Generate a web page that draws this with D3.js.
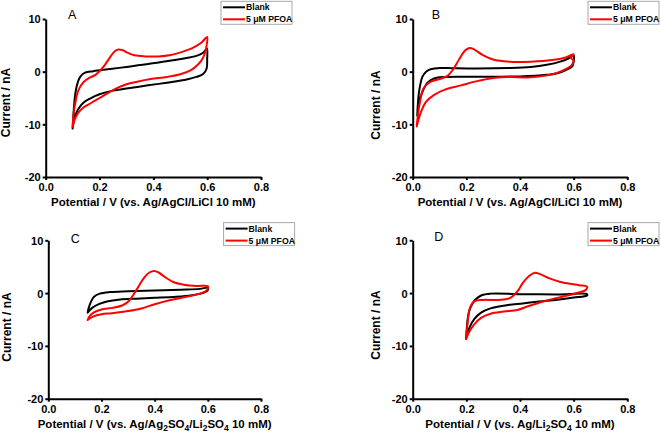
<!DOCTYPE html>
<html><head><meta charset="utf-8">
<script src="https://cdn.jsdelivr.net/npm/d3@7"></script>
<style>body{margin:0;background:#fff}svg{display:block}</style>
</head><body>
<svg id="c" width="661" height="434"></svg>
<script>
// ---------- data ----------
const xTicks = [0, 0.2, 0.4, 0.6, 0.8];
const yTicks = [10, 0, -10, -20];
const seriesNames = ["Blank", "5 \u03bcM PFOA"];
const seriesColors = ["#000000", "#ff0000"];
const panelLetters = ["A", "B", "C", "D"];

const blankA = [[0.100,-10.8],[0.104,-7.5],[0.108,-5.0],[0.115,-2.8],[0.128,-1.0],[0.146,-0.2],[0.177,0.1],[0.24,0.5],[0.30,0.9],[0.36,1.3],[0.425,1.8],[0.48,2.2],[0.524,2.6],[0.56,3.0],[0.585,3.6],[0.599,4.4],[0.600,2.4],[0.598,0.6],[0.586,-0.4],[0.56,-1.0],[0.524,-1.5],[0.45,-2.1],[0.38,-2.6],[0.30,-3.2],[0.25,-3.6],[0.20,-4.3],[0.165,-5.1],[0.14,-5.9],[0.12,-7.2],[0.107,-8.8],[0.100,-10.8]];
const pfoaA = [[0.100,-10.5],[0.104,-7.8],[0.109,-6.2],[0.121,-3.6],[0.140,-2.0],[0.165,-1.1],[0.185,-0.6],[0.202,0.2],[0.22,1.3],[0.24,2.8],[0.255,3.8],[0.27,4.2],[0.285,4.1],[0.30,3.7],[0.33,3.1],[0.37,2.9],[0.42,2.9],[0.46,3.1],[0.51,3.8],[0.55,4.6],[0.58,5.6],[0.600,6.6],[0.598,5.0],[0.592,3.6],[0.582,2.4],[0.565,1.3],[0.54,0.3],[0.50,-0.5],[0.45,-1.0],[0.39,-1.4],[0.34,-1.9],[0.30,-2.4],[0.25,-3.5],[0.20,-5.0],[0.17,-5.9],[0.14,-6.8],[0.12,-7.9],[0.107,-9.2],[0.100,-10.5]];

const blankB = [[0.017,-8.3],[0.019,-6.4],[0.022,-4.5],[0.028,-2.5],[0.036,-1.0],[0.05,0.0],[0.07,0.5],[0.10,0.7],[0.15,0.65],[0.24,0.6],[0.36,0.7],[0.44,0.9],[0.50,1.3],[0.55,1.9],[0.58,2.5],[0.600,3.1],[0.600,2.0],[0.595,1.0],[0.575,0.4],[0.54,-0.3],[0.50,-0.6],[0.40,-0.9],[0.30,-0.95],[0.20,-0.95],[0.12,-1.0],[0.08,-1.3],[0.055,-2.1],[0.04,-3.4],[0.028,-5.0],[0.021,-6.6],[0.017,-8.3]];
const pfoaB = [[0.015,-10.4],[0.020,-8.0],[0.027,-5.8],[0.04,-3.2],[0.064,-2.0],[0.10,-1.4],[0.13,-0.8],[0.15,0.4],[0.175,2.5],[0.195,4.0],[0.212,4.5],[0.23,4.2],[0.26,3.2],[0.30,2.3],[0.36,1.9],[0.44,1.9],[0.52,2.2],[0.57,2.7],[0.600,3.3],[0.590,2.6],[0.600,2.1],[0.592,1.2],[0.57,0.5],[0.54,-0.2],[0.49,-0.8],[0.43,-1.1],[0.36,-1.0],[0.30,-1.2],[0.24,-1.8],[0.18,-2.6],[0.12,-3.4],[0.08,-4.4],[0.05,-5.7],[0.03,-7.8],[0.015,-10.4]];

const blankC = [[0.148,-3.7],[0.152,-2.8],[0.160,-1.7],[0.172,-0.7],[0.194,-0.1],[0.232,0.2],[0.30,0.35],[0.40,0.5],[0.50,0.65],[0.57,0.8],[0.600,1.0],[0.598,0.4],[0.58,0.0],[0.54,-0.4],[0.48,-0.7],[0.40,-0.9],[0.33,-1.05],[0.27,-1.2],[0.22,-1.6],[0.19,-2.1],[0.165,-2.8],[0.148,-3.7]];
const pfoaC = [[0.148,-5.1],[0.155,-4.4],[0.17,-3.7],[0.20,-3.1],[0.24,-2.8],[0.28,-2.3],[0.305,-1.4],[0.32,-0.3],[0.34,1.3],[0.36,2.9],[0.38,3.9],[0.398,4.2],[0.415,3.9],[0.44,3.0],[0.47,2.1],[0.51,1.6],[0.56,1.35],[0.600,1.3],[0.600,0.8],[0.59,0.3],[0.57,-0.1],[0.52,-0.7],[0.46,-1.3],[0.40,-2.1],[0.35,-2.9],[0.30,-3.4],[0.24,-3.8],[0.20,-4.0],[0.17,-4.4],[0.148,-5.1]];

const blankD = [[0.199,-8.6],[0.202,-6.5],[0.206,-4.5],[0.214,-2.9],[0.232,-1.3],[0.257,-0.4],[0.29,-0.1],[0.40,-0.2],[0.54,-0.25],[0.650,-0.2],[0.650,-0.45],[0.60,-0.85],[0.54,-1.25],[0.47,-1.6],[0.41,-1.95],[0.35,-2.3],[0.29,-2.9],[0.255,-3.7],[0.23,-4.9],[0.212,-6.5],[0.199,-8.6]];
const pfoaD = [[0.199,-8.7],[0.203,-6.5],[0.207,-4.5],[0.214,-2.7],[0.228,-1.6],[0.26,-1.3],[0.32,-1.3],[0.36,-1.0],[0.39,0.3],[0.41,1.9],[0.435,3.3],[0.456,3.85],[0.475,3.6],[0.51,2.8],[0.56,2.0],[0.62,1.5],[0.650,1.2],[0.645,0.6],[0.62,0.1],[0.58,-0.4],[0.53,-1.0],[0.48,-1.7],[0.43,-2.5],[0.39,-3.2],[0.34,-3.5],[0.29,-3.9],[0.255,-4.7],[0.228,-6.0],[0.21,-7.4],[0.199,-8.7]];

// x-axis titles: [text, isSubscript]
const xLabelA = [["Potential / V (vs. Ag/AgCl/LiCl 10 mM)",0]];
const xLabelB = [["Potential / V (vs. Ag/AgCl/LiCl 10 mM)",0]];
const xLabelC = [["Potential / V (vs. Ag/Ag",0],["2",1],["SO",0],["4",1],["/Li",0],["2",1],["SO",0],["4",1],[" 10 mM)",0]];
const xLabelD = [["Potential / V (vs. Ag/Li",0],["2",1],["SO",0],["4",1],[" 10 mM)",0]];
const yLabel = "Current / nA";

// ---------- layout ----------
const layout = [
  {x0:45.7, x1:261,   y0:19,    y1:177,   lx:22.3, ly:0,   yl:{dx:-35.7, cy:102.5}},
  {x0:412.7,x1:627.3, y0:19,    y1:177,   lx:19,   ly:0,   yl:{dx:-32.7, cy:105}},
  {x0:48.3, x1:261,   y0:240.3, y1:398.7, lx:22.4, ly:2.5, yl:{dx:-37.3, cy:327}},
  {x0:412.7,x1:627.3, y0:240.3, y1:398.7, lx:21.6, ly:1,   yl:{dx:-32.7, cy:325}}
];
const panelData = [[blankA,pfoaA],[blankB,pfoaB],[blankC,pfoaC],[blankD,pfoaD]];
const xLabels = [xLabelA,xLabelB,xLabelC,xLabelD];

const svg = d3.select("#c");
const FONT = "'Liberation Sans', Arial, sans-serif";

layout.forEach((L, i) => {
  const x = d3.scaleLinear().domain([0, 0.8]).range([L.x0, L.x1]);
  const y = d3.scaleLinear().domain([-20, 10]).range([L.y1, L.y0]);
  const g = svg.append("g");

  // curves
  const line = d3.line().x(d => x(d[0])).y(d => y(d[1])).curve(d3.curveCatmullRom.alpha(0.5));
  panelData[i].forEach((s, k) => {
    g.append("path").attr("d", line(s)).attr("fill", "none")
      .attr("stroke", seriesColors[k]).attr("stroke-width", 2)
      .attr("stroke-linejoin", "round").attr("stroke-linecap", "round");
  });

  // axes
  const xa = g.append("g").attr("transform", `translate(0,${L.y1})`)
    .call(d3.axisBottom(x).tickValues(xTicks).tickFormat(d3.format(".1f")).tickSize(3).tickSizeOuter(0).tickPadding(3));
  const ya = g.append("g").attr("transform", `translate(${L.x0},0)`)
    .call(d3.axisLeft(y).tickValues(yTicks).tickFormat(d => d).tickSize(3).tickSizeOuter(0).tickPadding(2));
  [xa, ya].forEach(a => {
    a.select(".domain").attr("stroke", "#000").attr("stroke-width", 2);
    a.selectAll(".tick line").attr("stroke", "#000").attr("stroke-width", 2);
    a.selectAll("text").attr("fill", "#000").style("font-family", FONT)
      .style("font-size", "11px").style("font-weight", "bold");
  });
  xa.selectAll("text").attr("dy", "0.75em");
  ya.selectAll("text").attr("dy", "0.36em");

  // x title
  const xt = g.append("text").attr("x", (L.x0 + L.x1) / 2).attr("y", L.y1 + 29)
    .attr("text-anchor", "middle").style("font-family", FONT)
    .style("font-size", "11.5px").style("font-weight", "bold");
  let sub = false;
  xLabels[i].forEach(([t, s]) => {
    const ts = xt.append("tspan").text(t);
    if (s && !sub) { ts.attr("dy", 3).style("font-size", "8.5px"); sub = true; }
    else if (s) { ts.style("font-size", "8.5px"); }
    else if (!s && sub) { ts.attr("dy", -3); sub = false; }
  });

  // y title
  g.append("text").attr("transform", `translate(${L.x0 + L.yl.dx},${L.yl.cy}) rotate(-90)`)
    .attr("text-anchor", "middle").style("font-family", FONT)
    .style("font-size", "12px").style("font-weight", "bold").text(yLabel);

  // panel letter
  g.append("text").attr("x", L.x0 + L.lx).attr("y", L.y0 + L.ly)
    .style("font-family", FONT).style("font-size", "12.5px").text(panelLetters[i]);

  // legend
  const bx = L.x0 + 175.3, by = L.y0 - 17.7;
  const lg = g.append("g");
  lg.append("rect").attr("x", bx).attr("y", by).attr("width", 71).attr("height", 23)
    .attr("fill", "#fff").attr("stroke", "#a8a8a8").attr("stroke-width", 1);
  seriesNames.forEach((n, k) => {
    const ry = by + 6 + k * 12;
    lg.append("line").attr("x1", bx + 2).attr("x2", bx + 24).attr("y1", ry).attr("y2", ry)
      .attr("stroke", seriesColors[k]).attr("stroke-width", 2);
    lg.append("text").attr("x", bx + 25).attr("y", ry).attr("dy", "0.35em")
      .style("font-family", FONT).style("font-size", "8.7px").style("font-weight", "bold").text(n);
  });
});
</script>
</body></html>
